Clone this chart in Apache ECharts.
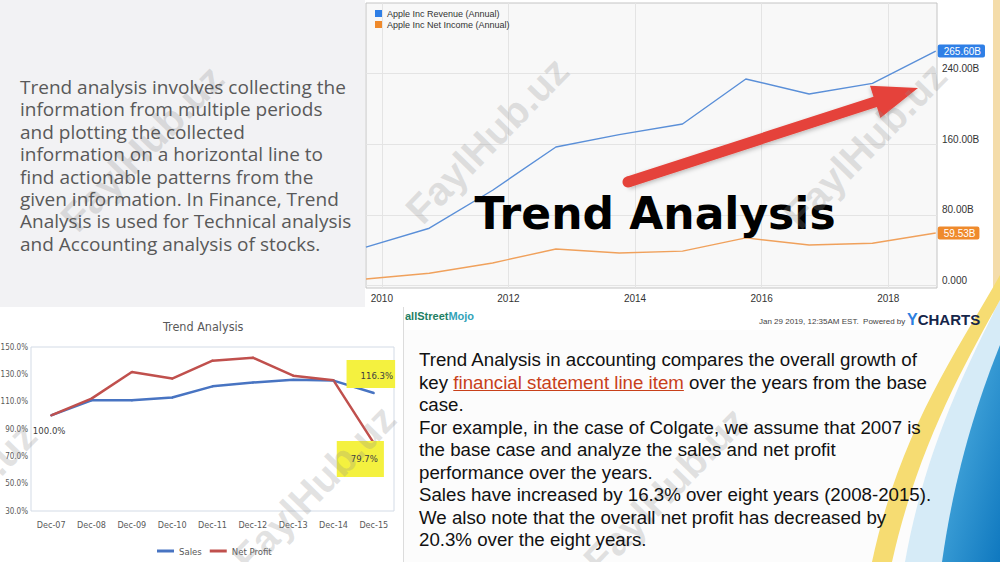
<!DOCTYPE html>
<html><head><meta charset="utf-8">
<script src="https://cdn.jsdelivr.net/npm/echarts@6/dist/echarts.min.js"></script>
<style>
html,body{margin:0;padding:0;width:1000px;height:562px;overflow:hidden;background:#f2f2f4;}
.panel{position:absolute;}
#deco{position:absolute;left:0;top:0;z-index:1;}
#chart{position:absolute;left:0;top:0;width:1000px;height:562px;z-index:2;}
.p1{position:absolute;left:20px;top:76px;font-family:'Open Sans',sans-serif;font-size:19px;line-height:22.4px;color:#595959;white-space:nowrap;z-index:3;}
.p2{position:absolute;left:419px;top:349px;font-family:'Liberation Sans',Arial,sans-serif;font-size:18.7px;line-height:22.5px;color:#111;white-space:nowrap;z-index:3;}
.p2 span{color:#c8401a;text-decoration:underline;}
</style></head>
<body>
<div class="panel" style="left:365px;top:0;width:628px;height:330px;background:#fff"></div>
<div class="panel" style="left:993px;top:0;width:7px;height:290px;background:#f4dcaa"></div>
<div class="panel" style="left:404px;top:330px;width:596px;height:232px;background:#fcfcfc"></div>
<div class="panel" style="left:0;top:307px;width:403px;height:255px;background:#fff;border-right:1px solid #dcdcdc"></div>
<svg id="deco" width="1000" height="562">
  <defs><linearGradient id="bg1" x1="0" y1="0" x2="1" y2="1"><stop offset="0" stop-color="#5ab8e6"/><stop offset="1" stop-color="#0f78bf"/></linearGradient></defs>
  <path d="M1000 300 C965 370 925 450 905 562 L948 562 C958 470 978 405 1000 352 Z" fill="#d6ebf7"/>
  <path d="M1000 275 C958 350 900 430 872 562 L892 562 C918 445 966 362 1000 300 Z" fill="#f6dc72"/>
  <path d="M1000 345 C978 400 955 470 942 562 L1000 562 Z" fill="url(#bg1)"/>
</svg>
<div id="chart"></div>
<div class="p1">Trend analysis involves collecting the<br>information from multiple periods<br>and plotting the collected<br>information on a horizontal line to<br>find actionable patterns from the<br>given information. In Finance, Trend<br>Analysis is used for Technical analysis<br>and Accounting analysis of stocks.</div>
<div class="p2">Trend Analysis in accounting compares the overall growth of<br>key <span>financial statement line item</span> over the years from the base<br>case.<br>For example, in the case of Colgate, we assume that 2007 is<br>the base case and analyze the sales and net profit<br>performance over the years.<br>Sales have increased by 16.3% over eight years (2008-2015).<br>We also note that the overall net profit has decreased by<br>20.3% over the eight years.</div>
<script>
// ---- Top chart (Apple, fiscal years ending ~September) ----
const fiscalYears = [2009.75, 2010.75, 2011.75, 2012.75, 2013.75, 2014.75, 2015.75, 2016.75, 2017.75, 2018.75];
const revenue = [43.5, 65, 108, 157, 171, 183, 234, 217, 229, 265.6];
const netIncome = [7.5, 14, 25.6, 41.5, 37, 39, 54, 46, 48, 59.53];
const yearTicks = [2010, 2012, 2014, 2016, 2018];
const valueTicks = [0, 80, 160, 240];
const topSeriesNames = ['Apple Inc Revenue (Annual)', 'Apple Inc Net Income (Annual)'];

// ---- Bottom chart (Colgate trend, base Dec-07 = 100%) ----
const periods = ['Dec-07', 'Dec-08', 'Dec-09', 'Dec-10', 'Dec-11', 'Dec-12', 'Dec-13', 'Dec-14', 'Dec-15'];
const sales = [100, 111, 111, 113, 121.2, 124, 126, 125.4, 116.3];
const netProfit = [100, 112.2, 131.7, 126.9, 140, 142.2, 129, 125.6, 79.7];
const pctTicks = [30, 50, 70, 90, 110, 130, 150];
const bottomSeriesNames = ['Sales', 'Net Profit'];

const chart = echarts.init(document.getElementById('chart'), null, {renderer: 'svg'});
const narrow = "'Liberation Sans Narrow','DejaVu Sans Condensed','Liberation Sans',Arial,sans-serif";
const pctFmt = p => p.value.toFixed(1) + '%';

const salesData = sales.map((v, i) => {
  if (i === 0) return {value: v, label: {show: true, position: 'bottom', distance: 9, offset: [-2, 0], formatter: pctFmt, color: '#404040', fontSize: 9.5, fontFamily: narrow}};
  if (i === sales.length - 1) return {value: v, label: {show: true, position: 'top', distance: 4, offset: [-3, 0], formatter: pctFmt, backgroundColor: '#f4f13f', padding: [10, 2, 8, 14], color: '#404040', fontSize: 9.5, fontFamily: narrow}};
  return v;
});
const profitData = netProfit.map((v, i) => {
  if (i === netProfit.length - 1) return {value: v, label: {show: true, position: 'bottom', distance: -3, offset: [-13.5, 0], formatter: pctFmt, backgroundColor: '#f4f13f', padding: [12, 6, 14, 14], color: '#404040', fontSize: 9.5, fontFamily: narrow}};
  return v;
});

function watermark(x, y) {
  return {type: 'text', x: x, y: y, rotation: 0.8, z: 50, silent: true,
    style: {text: 'FaylHub.uz', fill: 'rgba(140,140,140,0.25)', font: 'bold 40px "Liberation Sans", Arial', align: 'center', verticalAlign: 'middle'}};
}

const option = {
  animation: false,
  backgroundColor: 'transparent',
  title: [{text: 'Trend Analysis', left: 158, top: 315, textStyle: {fontSize: 12.5, fontWeight: 'normal', color: '#595959', fontFamily: narrow}}],
  legend: [
    {data: topSeriesNames, left: 370, top: 4, orient: 'vertical', icon: 'rect', itemWidth: 7, itemHeight: 7, itemGap: 2,
     textStyle: {fontSize: 9, color: '#333', fontFamily: "'Liberation Sans', Arial"}},
    {data: bottomSeriesNames, left: 152, top: 541, icon: 'rect', itemWidth: 17, itemHeight: 3, itemGap: 8,
     textStyle: {fontSize: 9.5, color: '#595959', fontFamily: narrow}}
  ],
  grid: [
    {left: 366, top: 3, width: 571, height: 285, show: true, backgroundColor: '#f8f8f8', borderColor: '#c4c4c4', borderWidth: 1, containLabel: false, outerBoundsMode: 'none'},
    {left: 31, top: 347, width: 363, height: 164, show: true, backgroundColor: '#fff', borderColor: '#d3dbe6', borderWidth: 1, containLabel: false, outerBoundsMode: 'none'}
  ],
  xAxis: [
    {type: 'value', gridIndex: 0, min: 2009.75, max: 2018.77, axisLine: {show: false},
     axisTick: {show: false, customValues: yearTicks},
     splitLine: {show: true, lineStyle: {color: '#e4e4e4'}},
     axisLabel: {customValues: yearTicks, formatter: v => String(v), color: '#333', fontSize: 10, margin: 5, fontFamily: "'Liberation Sans', Arial"}},
    {type: 'category', gridIndex: 1, data: periods, boundaryGap: true, axisLine: {show: false}, axisTick: {show: false},
     axisLabel: {color: '#595959', fontSize: 9, margin: 9, fontFamily: narrow}}
  ],
  yAxis: [
    {type: 'value', gridIndex: 0, position: 'right', min: -2.7, max: 320, axisLine: {show: false},
     axisTick: {show: false, customValues: valueTicks},
     splitLine: {show: true, lineStyle: {color: '#e4e4e4'}},
     axisLabel: {customValues: valueTicks, verticalAlign: 'bottom', margin: 5, color: '#333', fontSize: 10, fontFamily: "'Liberation Sans', Arial",
       formatter: v => v === 0 ? '0.000' : v.toFixed(2) + 'B'}},
    {type: 'value', gridIndex: 1, min: 30, max: 150, axisLine: {show: false},
     axisTick: {show: false, customValues: pctTicks}, splitLine: {show: false},
     axisLabel: {customValues: pctTicks, margin: 3, color: '#595959', fontSize: 8, fontFamily: narrow, formatter: v => v.toFixed(1) + '%'}}
  ],
  series: [
    {name: topSeriesNames[0], type: 'line', xAxisIndex: 0, yAxisIndex: 0, showSymbol: false,
     data: fiscalYears.map((y, i) => [y, revenue[i]]),
     lineStyle: {color: '#5a8fd8', width: 1.4}, itemStyle: {color: '#2f7fe6'},
     endLabel: {show: true, formatter: p => p.value[1].toFixed(2) + 'B', backgroundColor: '#2f7fe6', color: '#fff', fontSize: 10, padding: [2, 4, 1, 6], borderRadius: 2, distance: 2, fontFamily: "'Liberation Sans', Arial"}},
    {name: topSeriesNames[1], type: 'line', xAxisIndex: 0, yAxisIndex: 0, showSymbol: false,
     data: fiscalYears.map((y, i) => [y, netIncome[i]]),
     lineStyle: {color: '#f0a15c', width: 1.4}, itemStyle: {color: '#ef8a2c'},
     endLabel: {show: true, formatter: p => p.value[1].toFixed(2) + 'B', backgroundColor: '#ef8a2c', color: '#fff', fontSize: 10, padding: [2, 4, 1, 6], borderRadius: 2, distance: 2, fontFamily: "'Liberation Sans', Arial"}},
    {name: bottomSeriesNames[0], type: 'line', xAxisIndex: 1, yAxisIndex: 1, symbol: 'circle', symbolSize: 2,
     data: salesData, lineStyle: {color: '#4874c2', width: 2.5}, itemStyle: {color: '#4874c2'}},
    {name: bottomSeriesNames[1], type: 'line', xAxisIndex: 1, yAxisIndex: 1, symbol: 'circle', symbolSize: 2,
     data: profitData, lineStyle: {color: '#c0504d', width: 2.5}, itemStyle: {color: '#c0504d'}}
  ],
  graphic: [
    {type: 'polygon', z: 20, silent: true,
     shape: {points: [[626.3, 176.8], [873.5, 96.7], [870, 85.7], [918, 88], [880.4, 118.1], [876.9, 107.1], [629.7, 187.2]]},
     style: {fill: '#e5433a', shadowBlur: 4, shadowColor: 'rgba(0,0,0,0.25)', shadowOffsetY: 2}},
    {type: 'circle', z: 20, silent: true, shape: {cx: 628, cy: 182, r: 5.5}, style: {fill: '#e5433a'}},
    {type: 'text', z: 21, silent: true, x: 655, y: 213,
     style: {text: 'Trend Analysis', font: 'bold 44px "DejaVu Sans"', fill: '#000', align: 'center', verticalAlign: 'middle'}},
    {type: 'text', z: 10, silent: true, x: 405, y: 316,
     style: {text: '{a|allStreet}{b|Mojo}', verticalAlign: 'middle', rich: {
       a: {font: 'bold 11px "Liberation Sans", Arial', fill: '#1e7e62'},
       b: {font: 'bold 11px "Liberation Sans", Arial', fill: '#33a3b8'}}}},
    {type: 'text', z: 10, silent: true, x: 759, y: 321,
     style: {text: 'Jan 29 2019, 12:35AM EST.  Powered by', font: '8px "Liberation Sans", Arial', fill: '#444', verticalAlign: 'middle'}},
    {type: 'text', z: 10, silent: true, x: 907, y: 319,
     style: {text: '{y|Y}{c|CHARTS}', verticalAlign: 'middle', rich: {
       y: {font: 'bold 16px "Liberation Sans", Arial', fill: '#2d7fe0'},
       c: {font: 'bold 15px "Liberation Sans", Arial', fill: '#16264a'}}}},
    watermark(142, 148), watermark(487, 140), watermark(865, 145),
    watermark(-45, 505), watermark(314, 488), watermark(665, 490)
  ]
};
chart.setOption(option);
</script>
</body></html>
